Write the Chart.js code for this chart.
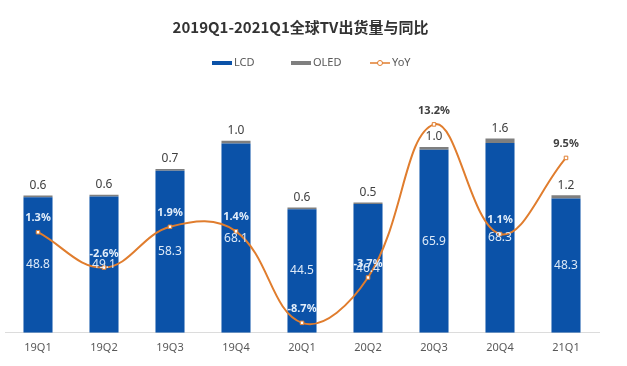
<!DOCTYPE html>
<html>
<head>
<meta charset="utf-8">
<script src="https://cdn.jsdelivr.net/npm/chart.js@4"></script>
<style>
  html, body { margin: 0; padding: 0; background: #fff; }
  #wrap { width: 627px; height: 366px; }
</style>
</head>
<body>
<div id="wrap"><canvas id="tvChart"></canvas></div>
<script>
const quarters = ["19Q1", "19Q2", "19Q3", "19Q4", "20Q1", "20Q2", "20Q3", "20Q4", "21Q1"];
const lcd = [48.8, 49.1, 58.3, 68.1, 44.5, 46.4, 65.9, 68.3, 48.3];
const oled = [0.6, 0.6, 0.7, 1.0, 0.6, 0.5, 1.0, 1.6, 1.2];
const yoy = [1.3, -2.6, 1.9, 1.4, -8.7, -3.7, 13.2, 1.1, 9.5];

const blue = "#0b52a8";
const gray = "#7f7f7f";
const orange = "#e07d2e";
const font = "'Noto Sans', 'Liberation Sans', sans-serif";

// labels: OLED on top, LCD in the middle, YoY above each point
const valueLabels = {
  id: "valueLabels",
  afterDatasetsDraw(chart) {
    const ctx = chart.ctx;
    const lcdMeta = chart.getDatasetMeta(0);
    const oledMeta = chart.getDatasetMeta(1);
    const yoyMeta = chart.getDatasetMeta(2);
    ctx.save();
    ctx.textAlign = "center";
    ctx.textBaseline = "middle";
    quarters.forEach((q, i) => {
      const lb = lcdMeta.data[i];
      const ob = oledMeta.data[i];
      ctx.font = "12px " + font;
      ctx.fillStyle = "#dde9f7";
      ctx.fillText(lcd[i].toFixed(1), lb.x, (lb.y + lb.base) / 2);
      ctx.fillStyle = "#404040";
      ctx.fillText(oled[i].toFixed(1), ob.x, ob.y - 10);
      const p = yoyMeta.data[i];
      const ly = p.y - 14;
      ctx.font = "bold 11px " + font;
      ctx.fillStyle = ly > ob.y ? "#e3eefa" : "#404040";
      ctx.fillText(yoy[i].toFixed(1) + "%", p.x, ly);
    });
    ctx.restore();
  }
};

// legend drawn by hand so it matches the spacing of the original
const legendRow = {
  id: "legendRow",
  afterDraw(chart) {
    const ctx = chart.ctx;
    const y = 63;
    ctx.save();
    ctx.font = "11px " + font;
    ctx.textBaseline = "middle";
    const items = [
      { label: "LCD", color: blue, kind: "box" },
      { label: "OLED", color: gray, kind: "box" },
      { label: "YoY", color: orange, kind: "line" }
    ];
    items.forEach((it, k) => {
      const x = 212 + k * 79;
      if (it.kind === "box") {
        ctx.fillStyle = it.color;
        ctx.fillRect(x, y - 2, 20, 4);
      } else {
        ctx.strokeStyle = it.color;
        ctx.lineWidth = 1.5;
        ctx.beginPath();
        ctx.moveTo(x, y);
        ctx.lineTo(x + 20, y);
        ctx.stroke();
        ctx.fillStyle = "#fff";
        ctx.beginPath();
        ctx.arc(x + 10, y, 2.5, 0, Math.PI * 2);
        ctx.fill();
        ctx.lineWidth = 1;
        ctx.stroke();
      }
      ctx.fillStyle = "#595959";
      ctx.fillText(it.label, x + 22, y);
    });
    ctx.restore();
  }
};

new Chart(document.getElementById("tvChart"), {
  data: {
    labels: quarters,
    datasets: [
      {
        type: "bar",
        label: "LCD",
        data: lcd,
        backgroundColor: blue,
        stack: "tv",
        yAxisID: "y",
        order: 1
      },
      {
        type: "bar",
        label: "OLED",
        data: oled,
        backgroundColor: gray,
        stack: "tv",
        yAxisID: "y",
        order: 1
      },
      {
        type: "line",
        label: "YoY",
        data: yoy,
        borderColor: orange,
        backgroundColor: orange,
        borderWidth: 2,
        tension: 0.4,
        pointStyle: "rect",
        pointRadius: 2.5,
        pointBackgroundColor: "#fff",
        pointBorderColor: orange,
        pointBorderWidth: 1,
        yAxisID: "y2",
        order: 0
      }
    ]
  },
  options: {
    responsive: true,
    maintainAspectRatio: false,
    animation: false,
    layout: { padding: { left: 2, right: 28, bottom: 12 } },
    datasets: {
      bar: { categoryPercentage: 1, barPercentage: 0.44 }
    },
    scales: {
      x: {
        stacked: true,
        grid: { display: false },
        border: { color: "#dcdcdc" },
        ticks: { color: "#595959", font: { family: font, size: 11 }, padding: 0 }
      },
      y: {
        stacked: true,
        display: false,
        min: 0,
        max: 91
      },
      y2: {
        display: false,
        min: -9.8,
        max: 18.1
      }
    },
    plugins: {
      title: {
        display: true,
        text: "2019Q1-2021Q1全球TV出货量与同比",
        color: "#333",
        font: { family: "'Noto Sans CJK SC', " + font, size: 15, weight: "bold" },
        padding: { top: 18, bottom: 44 }
      },
      legend: { display: false },
      tooltip: { enabled: false }
    }
  },
  plugins: [valueLabels, legendRow]
});
</script>
</body>
</html>
